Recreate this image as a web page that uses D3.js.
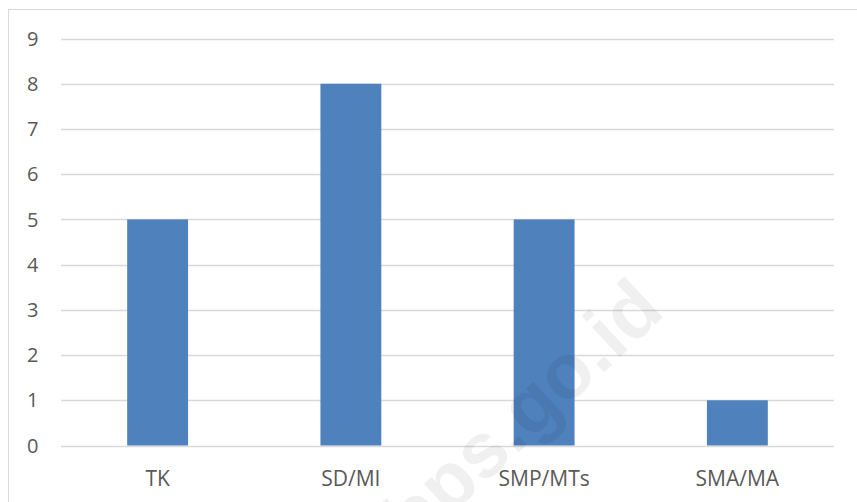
<!DOCTYPE html>
<html>
<head>
<meta charset="utf-8">
<script src="https://cdn.jsdelivr.net/npm/d3@7"></script>
<style>
html,body{margin:0;padding:0;background:#fff;}
svg{display:block;}
</style>
</head>
<body>
<svg id="chart" width="857" height="502"></svg>
<script>
const categories = ["TK", "SD/MI", "SMP/MTs", "SMA/MA"];
const values = [5, 8, 5, 1];
const yTicks = [0, 1, 2, 3, 4, 5, 6, 7, 8, 9];

const W = 857, H = 502;
const svg = d3.select("#chart");
const font = "'Open Sans', 'Liberation Sans', sans-serif";

// outer frame
svg.append("rect")
  .attr("x", 8.5).attr("y", 9.5)
  .attr("width", 900).attr("height", 600)
  .attr("fill", "#fff").attr("stroke", "#d9d9d9").attr("stroke-width", 1);

const x = d3.scaleBand().domain(categories).range([61, 834]).padding(0);
const y = d3.scaleLinear().domain([0, 9]).range([445.5, 38.5]);

// gridlines
svg.append("g").selectAll("line").data(yTicks).join("line")
  .attr("x1", 61).attr("x2", 834)
  .attr("y1", d => Math.round(y(d)) + 0.5).attr("y2", d => Math.round(y(d)) + 0.5)
  .attr("stroke", "#d9d9d9").attr("stroke-width", 1.5);

// y labels
svg.append("g").selectAll("text").data(yTicks).join("text")
  .attr("x", 38.5).attr("y", d => y(d))
  .attr("dy", "0.36em")
  .attr("text-anchor", "end")
  .attr("font-family", font).attr("font-size", 20)
  .attr("fill", "#595959")
  .text(d => d);

// bars
const barW = x.bandwidth() * 0.315;
svg.append("g").selectAll("rect").data(values).join("rect")
  .attr("x", (d, i) => x(categories[i]) + x.bandwidth() / 2 - barW / 2)
  .attr("width", barW)
  .attr("y", d => y(d))
  .attr("height", d => y(0) - y(d))
  .attr("fill", "#4f81bd");

// x labels
svg.append("g").selectAll("text").data(categories).join("text")
  .attr("x", d => x(d) + x.bandwidth() / 2)
  .attr("y", 486)
  .attr("text-anchor", "middle")
  .attr("font-family", font).attr("font-size", 21)
  .attr("fill", "#595959")
  .text(d => d);

// watermark
svg.append("text")
  .attr("transform", "translate(540,432) rotate(-43)")
  .attr("text-anchor", "middle")
  .attr("font-family", "'Liberation Sans', Arial, sans-serif")
  .attr("font-weight", "bold")
  .attr("font-size", 78)
  .attr("fill", "#000")
  .attr("fill-opacity", 0.06)
  .text("bps.go.id");
</script>
</body>
</html>
